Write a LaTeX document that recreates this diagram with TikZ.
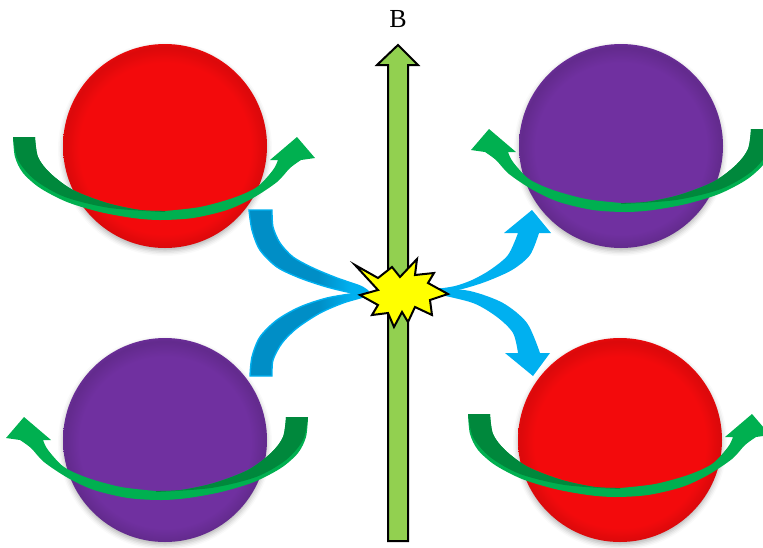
\documentclass[tikz,border=0pt]{standalone}
\usepackage{fontspec}
\setmainfont{Liberation Serif}
\usetikzlibrary{shadows.blur}

\definecolor{ballred}{RGB}{243,10,12}
\definecolor{ballredlt}{RGB}{255,100,100}
\definecolor{ballpur}{RGB}{112,48,160}
\definecolor{ballpurlt}{RGB}{185,125,235}
\definecolor{ribbon}{RGB}{0,176,80}
\definecolor{ribbondk}{RGB}{0,136,60}
\definecolor{flowlt}{RGB}{0,176,240}
\definecolor{flowdk}{RGB}{0,142,198}
\definecolor{field}{RGB}{146,208,80}
\definecolor{flash}{RGB}{255,255,0}

% sphere shadings: light rim on top, slightly darker rim at the sides
\pgfdeclareradialshading{redsphere}{\pgfpoint{0bp}{-2bp}}{color(0bp)=(ballred); color(21bp)=(ballred); color(24.6bp)=(ballred!90!black); color(26bp)=(ballred); color(27.5bp)=(ballredlt); color(30bp)=(ballredlt)}
\pgfdeclareradialshading{pursphere}{\pgfpoint{0bp}{-2bp}}{color(0bp)=(ballpur); color(21bp)=(ballpur); color(24.6bp)=(ballpur!88!black); color(26bp)=(ballpur); color(27.5bp)=(ballpurlt); color(30bp)=(ballpurlt)}
% flow arrows: dark near the tail, light towards the flash
\pgfdeclarehorizontalshading{flowfade}{100bp}{color(0bp)=(flowdk); color(54bp)=(flowdk); color(68bp)=(flowlt); color(100bp)=(flowlt)}

\tikzset{
  sphere/.style={circle, inner sep=0pt, minimum size=204pt,
    blur shadow={shadow xshift=0pt, shadow yshift=-3pt, shadow blur radius=5pt, shadow opacity=30}},
  redball/.style={sphere, shading=redsphere},
  purball/.style={sphere, shading=pursphere},
  flowarrow/.style={fill=flowlt},
  flowtail/.style={shading=flowfade, draw=flowlt, line width=1.4pt},
  fieldarrow/.style={fill=field, draw=black, line width=2pt, line join=miter},
  flashstar/.style={fill=flash, draw=black, line width=2pt, line join=miter},
  % curved spin arrow round a sphere, head on the right
  spin/.pic={
    \fill[ribbon]
      plot[smooth] coordinates {(13,137) (15,157) (23,173) (40,188) (67,202) (100,212) (133,218) (160,220) (193,218) (227,210) (253,198) (277,182) (290,168) (301,160)}
      -- (315,158) -- (297,137) -- (270,160) -- (278,160)
      -- plot[smooth] coordinates {(278,160) (273,170) (257,187) (233,198) (200,207) (165,211)}
      -- plot[smooth] coordinates {(165,211) (140,210) (107,203) (73,190) (50,173) (38,157) (35,137)}
      -- cycle;
    \fill[ribbondk]
      plot[smooth] coordinates {(13,137) (18,160) (35,180) (65,197) (110,208) (165,212)}
      -- plot[smooth] coordinates {(165,211) (140,210) (107,203) (73,190) (50,173) (38,157) (35,137)}
      -- cycle;
  }
}

\begin{document}
\begin{tikzpicture}[x=1pt, y=-1pt]
  \useasboundingbox (0,0) rectangle (763,547);
  \clip (0,0) rectangle (763,547);

  % particles
  \node[redball] (tl) at (165,146) {};
  \node[purball] (tr) at (621,146) {};
  \node[purball] (bl) at (165,440) {};
  \node[redball] (br) at (620,440) {};

  % spin arrows
  \pic[transform shape] {spin};
  \begin{scope}[shift={(786,-8)}, xscale=-1] \pic[transform shape] {spin}; \end{scope}
  \begin{scope}[shift={(321,280)}, xscale=-1] \pic[transform shape] {spin}; \end{scope}
  \begin{scope}[shift={(455,277)}] \pic[transform shape] {spin}; \end{scope}

  % magnetic field arrow
  \draw[fieldarrow] (388,541) -- (388,65) -- (377,65) -- (398,45) -- (418,65)
    -- (408,65) -- (408,541) -- cycle;
  \node[font=\fontsize{26}{30}\selectfont, inner sep=0pt] (B) at (398,19) {B};

  % incoming flows
  \path[flowtail]
    plot[smooth] coordinates {(249,210) (252,230) (260,250) (277,267) (300,278) (327,287) (353,293) (368,293)}
    -- plot[smooth] coordinates {(368,291) (360,286) (337,278) (313,268) (293,257) (280,243) (273,227) (272,210)}
    -- cycle;
  \path[flowtail]
    plot[smooth] coordinates {(250,376) (252,357) (260,337) (277,320) (300,307) (327,298) (357,293) (368,292)}
    -- plot[smooth] coordinates {(368,294) (363,297) (343,303) (320,313) (297,328) (282,343) (273,360) (272,376)}
    -- cycle;

  % outgoing flows
  \fill[flowarrow]
    plot[smooth] coordinates {(436,289) (455,286) (472,280) (490,270) (508,255) (518,233)}
    -- (504,233) -- (532,210) -- (551,233) -- (539,233)
    -- plot[smooth] coordinates {(539,233) (530,255) (512,270) (485,282) (458,290) (436,292)}
    -- cycle;
  \fill[flowarrow]
    plot[smooth] coordinates {(436,288) (470,291) (503,303) (527,323) (540,353)}
    -- (550,353) -- (533,376) -- (505,353) -- (518,353)
    -- plot[smooth] coordinates {(518,353) (513,333) (497,317) (473,303) (436,294)}
    -- cycle;

  % collision flash
  \draw[flashstar] (355,265) -- (378,278) -- (392,267) -- (400,277) -- (417,259)
    -- (415,275) -- (434,273) -- (428,283) -- (448,294) -- (430,300) -- (432,315)
    -- (415,307) -- (408,322) -- (402,312) -- (394,327) -- (388,313) -- (372,315)
    -- (378,305) -- (360,295) -- (378,290) -- cycle;
  \coordinate (flash) at (400,293);
\end{tikzpicture}
\end{document}
